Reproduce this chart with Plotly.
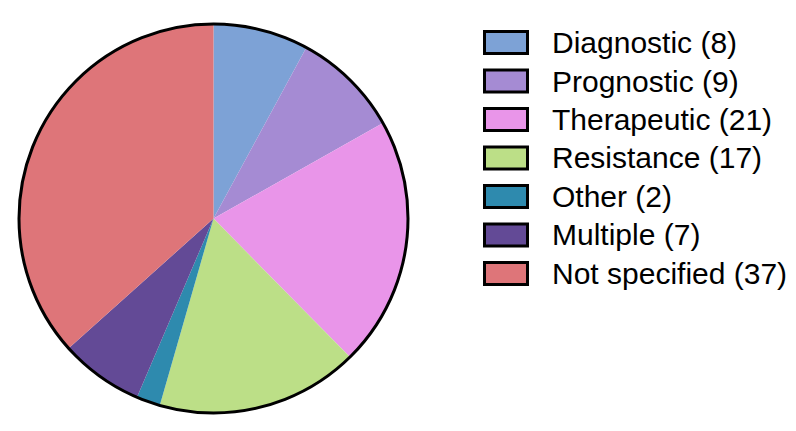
import plotly.graph_objects as go

categories = ["Diagnostic", "Prognostic", "Therapeutic", "Resistance", "Other", "Multiple", "Not specified"]
counts = [8, 9, 21, 17, 2, 7, 37]
colors = ["#7DA2D6", "#A58BD3", "#E995E9", "#BCDF87", "#2E8AAE", "#634A96", "#DE7579"]

W, H = 796, 431
OFF = 8  # page body margin compensation
cx, cy, r = 213.5 - OFF, 218.5 - OFF, 194.5

dom_x = [(cx - r) / W, (cx + r) / W]
dom_y = [1 - (cy + r) / H, 1 - (cy - r) / H]

fig = go.Figure()
fig.add_trace(go.Pie(
    labels=categories, values=counts, sort=False, direction="clockwise", rotation=0,
    marker=dict(colors=colors, line=dict(width=0)),
    textinfo="none", hoverinfo="label+value", showlegend=False,
    domain=dict(x=dom_x, y=dom_y),
))
# outer outline
fig.add_trace(go.Pie(
    labels=["outline"], values=[1], sort=False,
    marker=dict(colors=["rgba(0,0,0,0)"], line=dict(color="black", width=3)),
    textinfo="none", hoverinfo="skip", showlegend=False,
    domain=dict(x=dom_x, y=dom_y),
))

shapes = []
annotations = []
y0 = 42.5 - OFF
step = 38.5
for i, (cat, n, col) in enumerate(zip(categories, counts, colors)):
    yc = y0 + i * step
    shapes.append(dict(
        type="rect", xref="paper", yref="paper",
        x0=(484.5 - OFF) / W, x1=(527.5 - OFF) / W,
        y0=1 - (yc + 11) / H, y1=1 - (yc - 11) / H,
        fillcolor=col, line=dict(color="black", width=3),
    ))
    annotations.append(dict(
        x=(550 - OFF) / W, y=1 - yc / H, xref="paper", yref="paper",
        xanchor="left", yanchor="middle", showarrow=False,
        text=f"{cat} ({n})",
        font=dict(family="Liberation Sans, Arial, sans-serif", size=30, color="black"),
    ))

fig.update_layout(
    width=W, height=H, margin=dict(l=0, r=0, t=0, b=0),
    paper_bgcolor="white", plot_bgcolor="white",
    shapes=shapes, annotations=annotations,
)
fig.write_html("out.html")
